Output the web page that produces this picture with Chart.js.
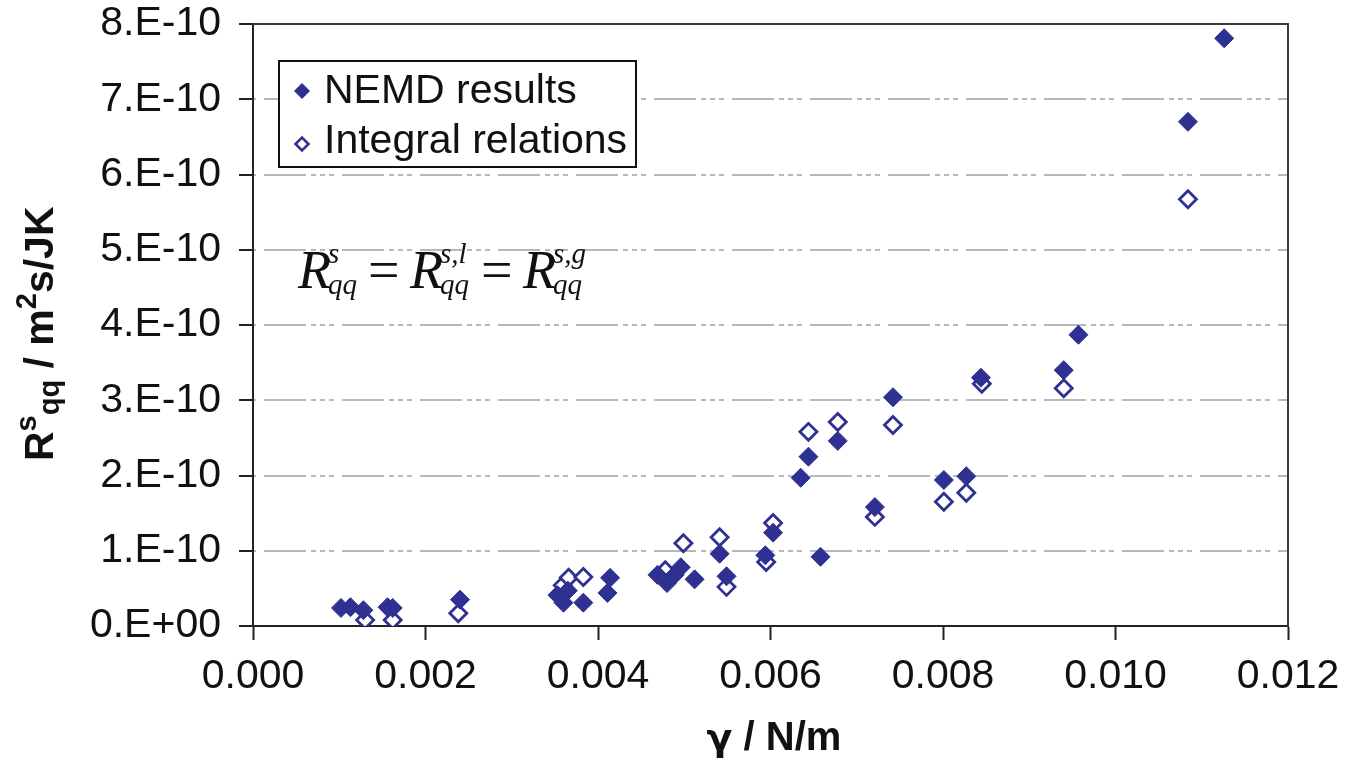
<!DOCTYPE html>
<html>
<head>
<meta charset="utf-8">
<script src="https://cdn.jsdelivr.net/npm/chart.js@4"></script>
<style>
  html, body { margin: 0; padding: 0; background: #fff; }
  #wrap { width: 1348px; height: 760px; }
</style>
</head>
<body>
<div id="wrap"><canvas id="chart" width="1348" height="760"></canvas></div>
<script>
// gamma in N/m, R^s_qq in m2s/JK
const nemdGamma = [0.00102, 0.00113, 0.00128, 0.00156, 0.00162, 0.00240, 0.00353, 0.00360, 0.00365, 0.00383,
                   0.00411, 0.00414, 0.00469, 0.00480, 0.00489, 0.00496, 0.00512, 0.00541, 0.00549, 0.00594,
                   0.00603, 0.00635, 0.00644, 0.00658, 0.00678, 0.00721, 0.00742, 0.00801, 0.00827, 0.00844,
                   0.00940, 0.00957, 0.01084, 0.01126];
const nemdR = [0.24e-10, 0.25e-10, 0.21e-10, 0.25e-10, 0.24e-10, 0.35e-10, 0.41e-10, 0.31e-10, 0.47e-10, 0.31e-10,
               0.44e-10, 0.64e-10, 0.68e-10, 0.57e-10, 0.68e-10, 0.78e-10, 0.62e-10, 0.96e-10, 0.66e-10, 0.94e-10,
               1.24e-10, 1.97e-10, 2.25e-10, 0.92e-10, 2.46e-10, 1.58e-10, 3.04e-10, 1.94e-10, 1.99e-10, 3.30e-10,
               3.40e-10, 3.87e-10, 6.70e-10, 7.81e-10];

const integralGamma = [0.00130, 0.00162, 0.00238, 0.00359, 0.00366, 0.00383, 0.00478, 0.00499, 0.00541, 0.00549,
                       0.00595, 0.00603, 0.00644, 0.00678, 0.00721, 0.00742, 0.00801, 0.00827, 0.00845, 0.00940,
                       0.01084];
const integralR = [0.08e-10, 0.08e-10, 0.17e-10, 0.54e-10, 0.64e-10, 0.65e-10, 0.74e-10, 1.10e-10, 1.18e-10, 0.52e-10,
                   0.85e-10, 1.37e-10, 2.58e-10, 2.71e-10, 1.45e-10, 2.67e-10, 1.65e-10, 1.77e-10, 3.22e-10, 3.16e-10,
                   5.67e-10];

const seriesNames = ['NEMD results', 'Integral relations'];
const xTicks = [0, 0.002, 0.004, 0.006, 0.008, 0.010, 0.012];
const yTickLabels = ['0.E+00', '1.E-10', '2.E-10', '3.E-10', '4.E-10', '5.E-10', '6.E-10', '7.E-10', '8.E-10'];

const BLUE = '#2e3192';
const SANS = '"Liberation Sans", Arial, sans-serif';
const SERIF = '"Liberation Serif", "Times New Roman", serif';

function toPoints(xs, ys) {
    return xs.map((x, i) => ({ x: x, y: ys[i] }));
}

function diamond(ctx, x, y, r) {
    ctx.beginPath();
    ctx.moveTo(x - r, y);
    ctx.lineTo(x, y - r);
    ctx.lineTo(x + r, y);
    ctx.lineTo(x, y + r);
    ctx.closePath();
}

// texte avec exposants / indices, pieces = [texte, police, decalage vertical]
function drawRich(ctx, pieces, x, y) {
    let cx = x;
    pieces.forEach(p => {
        ctx.font = p[1];
        ctx.fillText(p[0], cx, y + p[2]);
        cx += ctx.measureText(p[0]).width;
    });
    return cx - x;
}

function richWidth(ctx, pieces) {
    let w = 0;
    pieces.forEach(p => {
        ctx.font = p[1];
        w += ctx.measureText(p[0]).width;
    });
    return w;
}

const decorations = {
    id: 'decorations',
    beforeDatasetsDraw(chart) {
        const { ctx, chartArea: a } = chart;
        ctx.save();
        ctx.strokeStyle = '#3a3a3a';
        ctx.lineWidth = 2;
        ctx.beginPath();
        ctx.moveTo(a.left, a.top);
        ctx.lineTo(a.right, a.top);
        ctx.lineTo(a.right, a.bottom);
        ctx.stroke();
        ctx.restore();
    },
    afterDraw(chart) {
        const { ctx } = chart;
        ctx.save();
        ctx.fillStyle = '#111';
        ctx.textBaseline = 'alphabetic';
        ctx.textAlign = 'left';

        // titre axe x
        const xTitle = [['γ', 'bold 38px "DejaVu Sans", sans-serif', 0], [' / N/m', 'bold 40px ' + SANS, 0]];
        drawRich(ctx, xTitle, 774 - richWidth(ctx, xTitle) / 2, 750);

        // titre axe y (tourne)
        ctx.save();
        ctx.translate(53, 461);
        ctx.rotate(-Math.PI / 2);
        const big = 'bold 41px ' + SANS;
        const sm = 'bold 29px ' + SANS;
        drawRich(ctx, [['R', big, 0], ['s', sm, -17], ['qq', sm, 6], [' / m', big, 0], ['2', sm, -17], ['s/JK', big, 0]], 0, 0);
        ctx.restore();

        // legende
        ctx.fillStyle = '#fff';
        ctx.fillRect(279, 61, 357, 106);
        ctx.strokeStyle = '#111';
        ctx.lineWidth = 2;
        ctx.strokeRect(279, 61, 357, 106);
        ctx.fillStyle = BLUE;
        diamond(ctx, 302, 91, 8);
        ctx.fill();
        ctx.strokeStyle = BLUE;
        ctx.lineWidth = 2.5;
        ctx.fillStyle = '#fff';
        diamond(ctx, 302, 144, 6.5);
        ctx.fill();
        ctx.stroke();
        ctx.fillStyle = '#111';
        ctx.font = '41px ' + SANS;
        ctx.fillText(seriesNames[0], 324, 103);
        ctx.fillText(seriesNames[1], 324, 153);

        // equation
        const eqBig = 'italic 54px ' + SERIF;
        const eqSmall = 'italic 29px ' + SERIF;
        const terms = [[298, 's'], [410, 's,l'], [523, 's,g']];
        terms.forEach(t => {
            ctx.font = eqBig;
            ctx.fillText('R', t[0], 288);
            ctx.font = eqSmall;
            ctx.fillText(t[1], t[0] + 30, 263);
            ctx.fillText('qq', t[0] + 30, 294);
        });
        ctx.font = '56px ' + SERIF;
        ctx.fillText('=', 368, 289);
        ctx.fillText('=', 481, 289);
        ctx.restore();
    }
};

new Chart(document.getElementById('chart'), {
    type: 'scatter',
    data: {
        datasets: [{
            label: seriesNames[0],
            data: toPoints(nemdGamma, nemdR),
            pointStyle: 'rectRot',
            pointRadius: 9.5,
            borderWidth: 1,
            borderColor: BLUE,
            backgroundColor: BLUE
        }, {
            label: seriesNames[1],
            data: toPoints(integralGamma, integralR),
            pointStyle: 'rectRot',
            pointRadius: 8.5,
            borderWidth: 2.8,
            borderColor: BLUE,
            backgroundColor: '#fff'
        }]
    },
    options: {
        responsive: false,
        animation: false,
        layout: { padding: { top: 24, right: 60, left: 0, bottom: 0 } },
        plugins: {
            legend: { display: false },
            tooltip: { enabled: false }
        },
        scales: {
            x: {
                type: 'linear',
                min: 0,
                max: 0.012,
                afterFit: s => { s.height = 134; s.paddingLeft = 0; s.paddingRight = 0; },
                afterBuildTicks: s => { s.ticks = xTicks.map(v => ({ value: v })); },
                ticks: {
                    padding: 12,
                    color: '#111',
                    font: { family: SANS, size: 41 },
                    maxRotation: 0,
                    callback: v => v.toFixed(3)
                },
                grid: {
                    drawOnChartArea: false,
                    tickLength: 14,
                    tickColor: '#222',
                    tickWidth: 2
                },
                border: { color: '#222', width: 2 }
            },
            y: {
                type: 'linear',
                min: 0,
                max: 8e-10,
                afterFit: s => { s.width = 253; s.paddingTop = 0; s.paddingBottom = 0; },
                ticks: {
                    stepSize: 1e-10,
                    padding: 18,
                    color: '#111',
                    font: { family: SANS, size: 41 },
                    callback: v => yTickLabels[Math.round(v / 1e-10)]
                },
                grid: {
                    color: '#b4b9b9',
                    lineWidth: 2,
                    tickLength: 14,
                    tickColor: '#222',
                    tickWidth: 2
                },
                border: { color: '#222', width: 2, dash: [42, 5, 5, 4, 5, 4, 5, 8], dashOffset: 68 }
            }
        }
    },
    plugins: [decorations]
});
</script>
</body>
</html>
